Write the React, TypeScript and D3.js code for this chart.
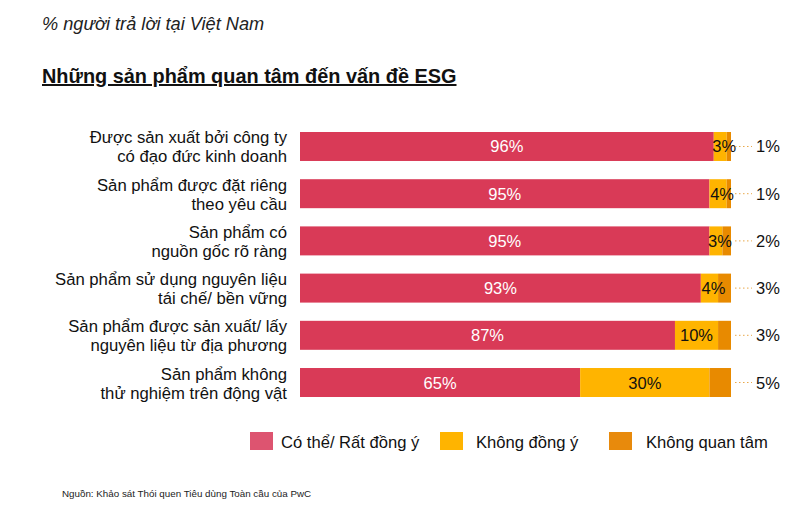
import React from "react";
import * as d3 from "d3";

const categories: string[][] = [
  ["Được sản xuất bởi công ty", "có đạo đức kinh doanh"],
  ["Sản phẩm được đặt riêng", "theo yêu cầu"],
  ["Sản phẩm có", "nguồn gốc rõ ràng"],
  ["Sản phẩm sử dụng nguyên liệu", "tái chế/ bền vững"],
  ["Sản phẩm được sản xuất/ lấy", "nguyên liệu từ địa phương"],
  ["Sản phẩm không", "thử nghiệm trên động vật"],
];
const agree = [96, 95, 95, 93, 87, 65];
const disagree = [3, 4, 3, 4, 10, 30];
const notCare = [1, 1, 2, 3, 3, 5];
const seriesNames = ["Có thể/ Rất đồng ý", "Không đồng ý", "Không quan tâm"];

const FONT = "'Liberation Sans', Arial, sans-serif";
const BAR_COLORS = ["#d93a57", "#ffb400", "#e88a00"];
const LEGEND_COLORS = ["#dd5470", "#ffb400", "#e88a0c"];

export default function App() {
  const W = 800;
  const H = 519;
  const x = d3.scaleLinear().domain([0, 100]).range([300, 731]);
  const y = d3
    .scaleBand<number>()
    .domain(d3.range(categories.length))
    .range([132, 397])
    .paddingInner(0.386)
    .paddingOuter(0);
  const bw = y.bandwidth();

  const rows = categories.map((c, i) => ({
    label: c,
    vals: [agree[i], disagree[i], notCare[i]],
  }));

  const legendX = [250, 440, 609];
  const legendGap = [8, 13, 14];

  return (
    <svg
      width={W}
      height={H}
      style={{ position: "absolute", left: 0, top: 0, background: "#fff" }}
      fontFamily={FONT}
    >
      <rect width={W} height={H} fill="#fff" />
      <text x={42} y={29.5} fontSize={18.2} fontStyle="italic" fill="#222">
        % người trả lời tại Việt Nam
      </text>
      <text
        x={42}
        y={83}
        fontSize={19.9}
        fontWeight="bold"
        fill="#111"
        textDecoration="underline"
      >
        Những sản phẩm quan tâm đến vấn đề ESG
      </text>

      {rows.map((r, i) => {
        const y0 = y(i)!;
        const cy = y0 + bw / 2;
        let acc = 0;
        const segs = r.vals.map((v) => {
          const s = { x0: x(acc), x1: x(acc + v), v };
          acc += v;
          return s;
        });
        const endX = x(acc);
        return (
          <g key={i}>
            <text textAnchor="end" fontSize={16.7} fill="#111">
              <tspan x={287} y={cy - 3}>
                {r.label[0]}
              </tspan>
              <tspan x={287} y={cy + 16}>
                {r.label[1]}
              </tspan>
            </text>
            {segs.map((s, j) => (
              <rect
                key={j}
                x={s.x0}
                y={y0}
                width={s.x1 - s.x0}
                height={bw}
                fill={BAR_COLORS[j]}
              />
            ))}
            <text
              x={(segs[0].x0 + segs[0].x1) / 2}
              y={cy + 6}
              textAnchor="middle"
              fontSize={16.5}
              fill="#fff"
            >
              {segs[0].v}%
            </text>
            <text
              x={(segs[1].x0 + segs[1].x1) / 2 + (segs[1].v < 6 ? 4 : 0)}
              y={cy + 6}
              textAnchor="middle"
              fontSize={16.5}
              fill="#111"
            >
              {segs[1].v}%
            </text>
            {endX + 8 < 752 && (
              <line
                x1={endX + 4}
                x2={752}
                y1={cy}
                y2={cy}
                stroke="#e9a84a"
                strokeWidth={1}
                strokeDasharray="1.5 2.5"
              />
            )}
            <text
              x={768}
              y={cy + 6}
              textAnchor="middle"
              fontSize={16.5}
              fill="#111"
            >
              {segs[2].v}%
            </text>
          </g>
        );
      })}

      {seriesNames.map((n, i) => (
        <g key={n}>
          <rect
            x={legendX[i]}
            y={432}
            width={23}
            height={18}
            fill={LEGEND_COLORS[i]}
          />
          <text
            x={legendX[i] + 23 + legendGap[i]}
            y={448}
            fontSize={16.6}
            fill="#111"
          >
            {n}
          </text>
        </g>
      ))}

      <text x={62} y={497} fontSize={9.8} fill="#222">
        Nguồn: Khảo sát Thói quen Tiêu dùng Toàn cầu của PwC
      </text>
    </svg>
  );
}
